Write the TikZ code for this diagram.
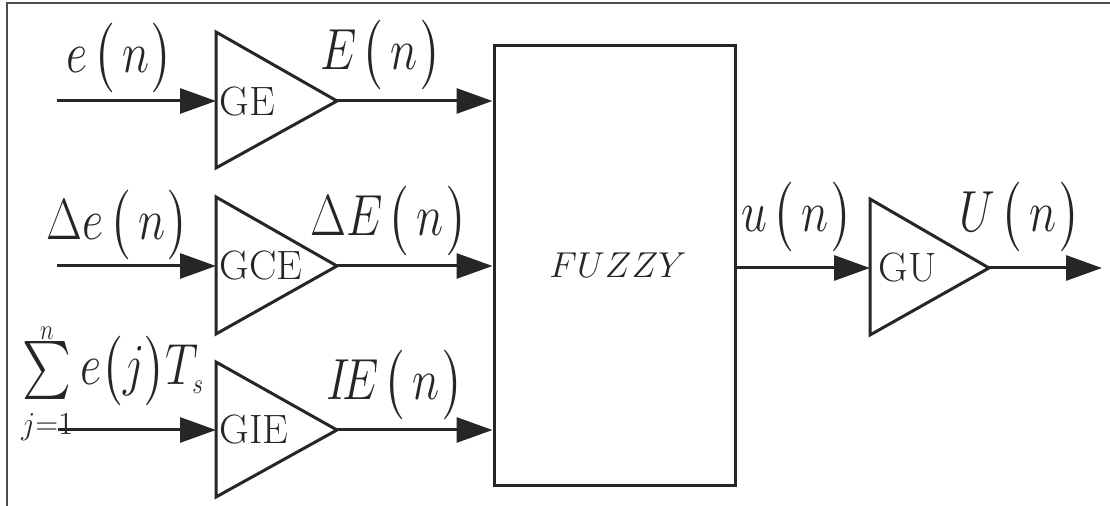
\RequirePackage{fix-cm}
\documentclass[tikz,border=0pt]{standalone}
\DeclareFontFamily{OMX}{cmex}{}
\DeclareFontShape{OMX}{cmex}{m}{n}{<->cmex10}{}
\usetikzlibrary{arrows.meta}
\definecolor{ink}{HTML}{262626}
\newcommand\LP{\mkern2mu\mathopen{\left(\vcenter to 34pt{}\right.}\mkern3mu}
\newcommand\RP{\mkern1mu\mathclose{\left.\vcenter to 34pt{}\right)}}
\newcommand\LPt{\mathopen{\left(\vcenter to 34pt{}\right.}}
\newcommand\RPt{\mathclose{\left.\vcenter to 34pt{}\right)}}
\newcommand\Lab[1]{\scalebox{0.8}[1]{$\nulldelimiterspace=0pt #1$}}
\begin{document}
\begin{tikzpicture}[x=0.5pt,y=-0.5pt,
  gain/.style={draw=ink, line width=1.5pt, line join=miter},
  sig/.style={draw=ink, line width=1.5pt, -{Triangle[length=18pt,width=12.5pt]}},
  lbl/.style={inner sep=0pt, text=ink, font=\fontsize{29}{35}\selectfont},
  glbl/.style={inner sep=0pt, anchor=west, text=ink, font=\fontsize{20.5}{24}\selectfont},
  frame/.style={draw=black!70, line width=0.9pt}]
\useasboundingbox (0,0) rectangle (1110,506);
% frame
\draw[frame] (1110,3) -- (7,3) -- (7,506);
% fuzzy block
\node[draw=ink, line width=1.5pt, minimum width=120.5pt, minimum height=220pt, inner sep=0pt] (fuzzy) at (614.5,266) {};
\node[inner sep=0pt, text=ink, font=\fontsize{18}{22}\selectfont] (fztext) at (618,265) {$FUZZY$};
% gain triangles
\draw[gain] (216,32) -- (337,101) -- (216,168) -- cycle;
\coordinate (gein) at (216,101); \coordinate (geout) at (337,101);
\node[glbl] (getext) at (219,102) {GE};
\draw[gain] (216,197) -- (337,266) -- (216,334) -- cycle;
\coordinate (gcein) at (216,266); \coordinate (gceout) at (337,266);
\node[glbl] (gcetext) at (219,266) {GCE};
\draw[gain] (216,362) -- (337,430) -- (216,497) -- cycle;
\coordinate (giein) at (216,430); \coordinate (gieout) at (337,430);
\node[glbl] (gietext) at (219,430) {GIE};
\draw[gain] (870,199) -- (989,268) -- (870,335) -- cycle;
\coordinate (guin) at (870,268); \coordinate (guout) at (989,268);
\node[glbl] (gutext) at (878,268) {GU};
% free ends
\coordinate (e1) at (57,101);
\coordinate (e2) at (57,266);
\coordinate (e3) at (58,430);
\coordinate (uend) at (1102,268);
% signals
\draw[sig] (e1) -- (gein);
\draw[sig] (e2) -- (gcein);
\draw[sig] (e3) -- (giein);
\draw[sig] (geout) -- (fuzzy.west |- geout);
\draw[sig] (gceout) -- (fuzzy.west |- gceout);
\draw[sig] (gieout) -- (fuzzy.west |- gieout);
\draw[sig] (fuzzy.east |- guin) -- (guin);
\draw[sig] (guout) -- (uend);
% labels
\node[lbl] (l1) at (120,58) {\Lab{e\LP n\RP}};
\node[lbl] (l2) at (381,55) {\Lab{E\LP n\RP}};
\node[lbl] (l3) at (118,225) {\Lab{\Delta e\LP n\RP}};
\node[lbl] (l4) at (389,221) {\Lab{\Delta E\LP n\RP}};
\node[lbl, anchor=base west] (l5) at (21,385) {\Lab{\sum\limits_{\scalebox{1.3}[1.1]{$\scriptscriptstyle j=1$}} e\LPt j\RPt T_{\scriptscriptstyle s}}};
\node[lbl] (l5n) at (47,333) {\Lab{\scriptscriptstyle n}};
\node[lbl] (l6) at (395,385) {\Lab{I\!E\LP n\RP}};
\node[lbl] (l7) at (797,217) {\Lab{u\LP n\RP}};
\node[lbl] (l8) at (1020,217) {\Lab{U\LP n\RP}};
\end{tikzpicture}
\end{document}
